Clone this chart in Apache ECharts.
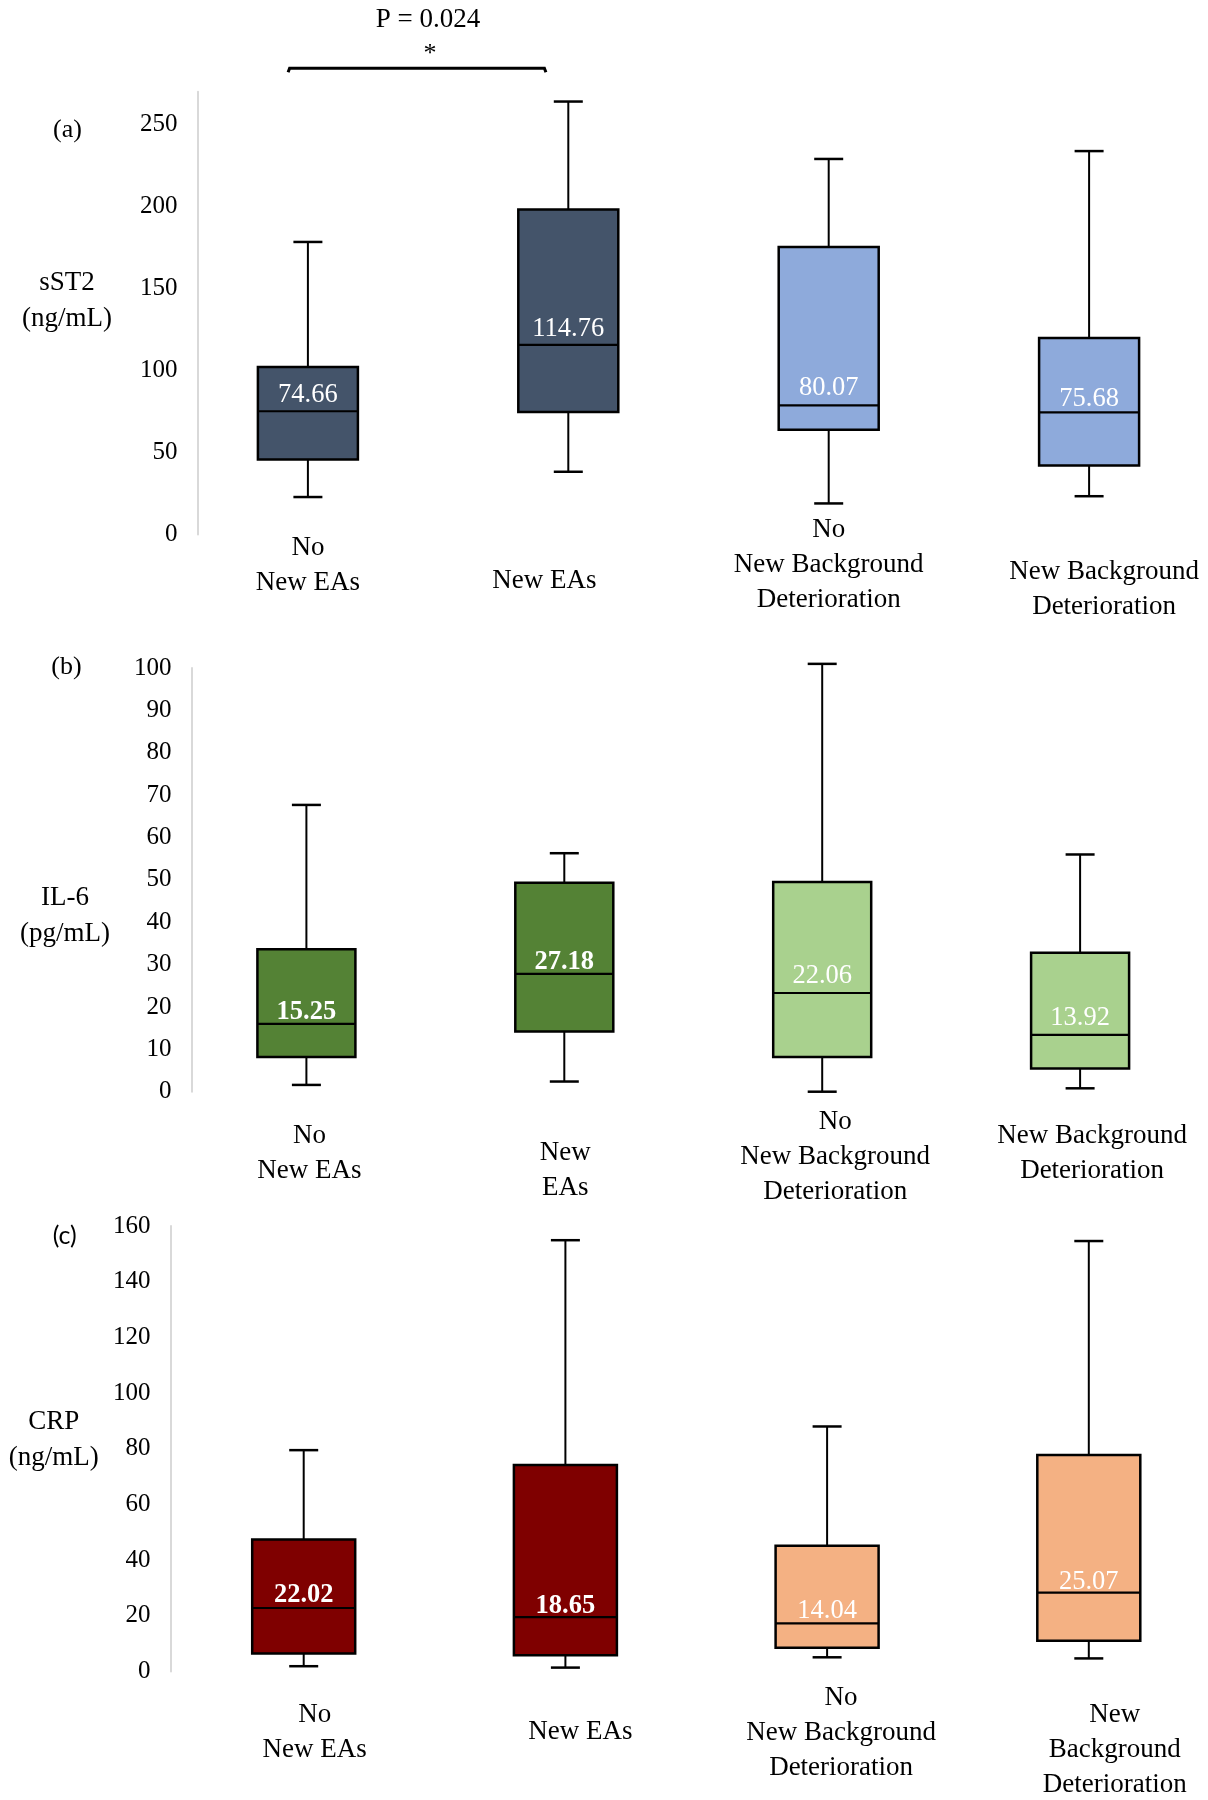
<!DOCTYPE html>
<html><head><meta charset="utf-8">
<script src="https://cdn.jsdelivr.net/npm/echarts@6/dist/echarts.min.js"></script>
<style>html,body{margin:0;padding:0;background:#fff}#chart{width:1208px;height:1800px}</style>
</head><body><div id="chart"></div>
<script>
// ---------------- DATA ----------------
const catsA = ['No\nNew EAs', 'New EAs', 'No\nNew Background\nDeterioration', 'New Background\nDeterioration'];
const catsB = ['No\nNew EAs', 'New\nEAs', 'No\nNew Background\nDeterioration', 'New Background\nDeterioration'];
const catsC = ['No\nNew EAs', 'New EAs', 'No\nNew Background\nDeterioration', 'New\nBackground\nDeterioration'];
// each box: [min, Q1, median, Q3, max]
const sst2 = [[22.9, 45.8, 75.2, 102.2, 178.4], [38.3, 74.7, 115.7, 198.2, 264.0], [19.0, 63.9, 78.8, 175.3, 229.0], [23.4, 42.2, 74.5, 119.8, 233.8]];
const sst2Medians = ['74.66', '114.76', '80.07', '75.68'];
const il6 = [[1.6, 8.2, 16.0, 33.6, 67.7], [2.4, 14.2, 27.8, 49.3, 56.3], [0.0, 8.2, 23.3, 49.5, 101.0], [0.8, 5.5, 13.4, 32.8, 56.0]];
const il6Medians = ['15.25', '27.18', '22.06', '13.92'];
const crp = [[1.9, 6.5, 22.8, 47.4, 79.5], [1.4, 5.8, 19.5, 74.2, 154.9], [5.1, 8.5, 17.3, 45.2, 88.0], [4.7, 11.0, 28.3, 77.8, 154.6]];
const crpMedians = ['22.02', '18.65', '14.04', '25.07'];
const ticksA = [0, 50, 100, 150, 200, 250];
const ticksB = [0, 10, 20, 30, 40, 50, 60, 70, 80, 90, 100];
const ticksC = [0, 20, 40, 60, 80, 100, 120, 140, 160];
const axisNameA = 'sST2\n(ng/mL)';
const axisNameB = 'IL-6\n(pg/mL)';
const axisNameC = 'CRP\n(ng/mL)';
const pText = 'P = 0.024';
const sigMark = '*';
const bracketLevel = 284.3; // sST2 value of the significance bracket

// ---------------- STYLE / LAYOUT ----------------
const SERIF = "'Liberation Serif','Times New Roman',serif";
const colorsA = ['#44546A', '#44546A', '#8EAADB', '#8EAADB'];
const colorsB = ['#548235', '#548235', '#A9D18E', '#A9D18E'];
const colorsC = ['#7F0000', '#7F0000', '#F4B183', '#F4B183'];
const panels = [
  { cats: catsA, data: sst2, med: sst2Medians, ticks: ticksA, max: 270, colors: colorsA, bold: [0,0,0,0],
    grid: { left: 177.7, top: 91.7, width: 1041.6, height: 442.9 }, yOffset: -19.9,
    boxW: 100, medGap: [16, 16, 17, 13],
    labMargin: -22, labPad: [[17.7, 0, 0, 0], [50.6, 48, 0, 0], [0, 0, 0, 0], [41.5, 0, 0, 30]] },
  { cats: catsB, data: il6, med: il6Medians, ticks: ticksB, max: 100, colors: colorsB, bold: [1,1,0,0],
    grid: { left: 177.45, top: 668.1, width: 1031.6, height: 423.6 }, yOffset: -13.95,
    boxW: 98, medGap: [12, 12, 17, 17],
    labMargin: 12.3, labPad: [[14.8, 0, 0, 6], [31.4, 0, 0, 2], [0, 0, 0, 26], [14.8, 0, 0, 24]] },
  { cats: catsC, data: crp, med: crpMedians, ticks: ticksC, max: 160, colors: colorsC, bold: [1,1,0,0],
    grid: { left: 172.85, top: 1226, width: 1046.8, height: 445.5 }, yOffset: 2.25,
    boxW: 103, medGap: [12.5, 11, 12, 11],
    labMargin: 8.7, labPad: [[17.2, 0, 0, 22], [34.5, 0, 0, 30], [0, 0, 0, 28], [17.2, 0, 0, 52]] }
];

function boxSeries(idx, p) {
  return {
    type: 'custom', xAxisIndex: idx, yAxisIndex: idx, z: 3,
    data: p.data.map((d, i) => [i].concat(d)),
    encode: { x: 0, y: [1, 2, 3, 4, 5] },
    renderItem: function (params, api) {
      const i = api.value(0);
      const pt = k => api.coord([i, api.value(k)]);
      const x = pt(3)[0];
      const yMin = pt(1)[1], yQ1 = pt(2)[1], yMed = pt(3)[1], yQ3 = pt(4)[1], yMax = pt(5)[1];
      const half = p.boxW / 2, cap = 14.5;
      const ln = (x1, y1, x2, y2, w) => ({ type: 'line', shape: { x1, y1, x2, y2 }, style: { stroke: '#000', lineWidth: w } });
      return { type: 'group', children: [
        ln(x, yQ3, x, yMax, 2), ln(x - cap, yMax, x + cap, yMax, 2.5),
        ln(x, yQ1, x, yMin, 2), ln(x - cap, yMin, x + cap, yMin, 2.5),
        { type: 'rect', shape: { x: x - half, y: yQ3, width: p.boxW, height: yQ1 - yQ3 },
          style: { fill: p.colors[i], stroke: '#000', lineWidth: 2.5 } },
        ln(x - half, yMed, x + half, yMed, 2.2),
        { type: 'text', x: x, y: yMed - p.medGap[i],
          style: { text: p.med[i], fill: '#fff', fontSize: 26.5, fontFamily: SERIF,
                   fontWeight: p.bold[i] ? 'bold' : 'normal', align: 'center', verticalAlign: 'middle' } }
      ] };
    }
  };
}

function label(text, cx, cy, font, size) {
  return { text: text, left: cx, top: cy, textAlign: 'center', textVerticalAlign: 'middle', padding: 0,
           textStyle: { fontFamily: font, fontSize: size, fontWeight: 'normal', color: '#000', lineHeight: 36 } };
}

const option = {
  backgroundColor: '#fff',
  animation: false,
  title: [
    label('(a)', 67.4, 130.5, SERIF, 26),
    label('(b)', 66.4, 667.4, SERIF, 26),
    label('(c)', 64.7, 1236.4, "Lato,'Open Sans',sans-serif", 25),
    label(axisNameA, 67, 300.5, SERIF, 27),
    label(axisNameB, 65, 916, SERIF, 27),
    label(axisNameC, 53.7, 1439.6, SERIF, 27)
  ],
  grid: panels.map(p => Object.assign({ outerBoundsMode: 'none', containLabel: false }, p.grid)),
  xAxis: panels.map((p, k) => ({
    type: 'category', gridIndex: k,
    data: p.cats.map((c, i) => ({ value: c, textStyle: { padding: p.labPad[i] } })),
    axisLine: { show: false }, axisTick: { show: false }, splitLine: { show: false },
    axisLabel: { interval: 0, margin: p.labMargin, color: '#000', fontSize: 27, fontFamily: SERIF,
                 lineHeight: 35, verticalAlign: 'top', hideOverlap: false }
  })),
  yAxis: panels.map((p, k) => ({
    type: 'value', gridIndex: k, min: 0, max: p.max, offset: p.yOffset,
    axisLine: { show: true, lineStyle: { color: '#D9D9D9', width: 2 } },
    axisTick: { show: false }, splitLine: { show: false },
    axisLabel: { customValues: p.ticks, margin: 20, color: '#000', fontSize: 25, fontFamily: SERIF }
  })),
  series: panels.map((p, k) => boxSeries(k, p)).concat([{
    type: 'custom', xAxisIndex: 0, yAxisIndex: 0, z: 4, silent: true,
    data: [[0, bracketLevel, 1]],
    encode: { x: 0, y: 1 },
    renderItem: function (params, api) {
      const band = api.size([1, 0])[0];
      const a = api.coord([api.value(0), api.value(1)]);
      const b = api.coord([api.value(2), api.value(1)]);
      const x0 = a[0] - 0.076 * band, x1 = b[0] - 0.086 * band, y = a[1];
      const mid = (x0 + x1) / 2 + 11;
      return { type: 'group', children: [
        { type: 'polyline', shape: { points: [[x0, y + 4], [x0 + 1.5, y], [x1 - 1.5, y], [x1, y + 4]] },
          style: { stroke: '#000', lineWidth: 3, fill: null } },
        { type: 'text', x: mid, y: y - 48,
          style: { text: pText, fill: '#000', fontSize: 27, fontFamily: SERIF, align: 'center', verticalAlign: 'middle' } },
        { type: 'text', x: mid + 2, y: y - 14,
          style: { text: sigMark, fill: '#000', fontSize: 26, fontFamily: SERIF, align: 'center', verticalAlign: 'middle' } }
      ] };
    }
  }])
};

const chart = echarts.init(document.getElementById('chart'), null, { renderer: 'canvas' });
chart.setOption(option);
</script>
</body></html>
